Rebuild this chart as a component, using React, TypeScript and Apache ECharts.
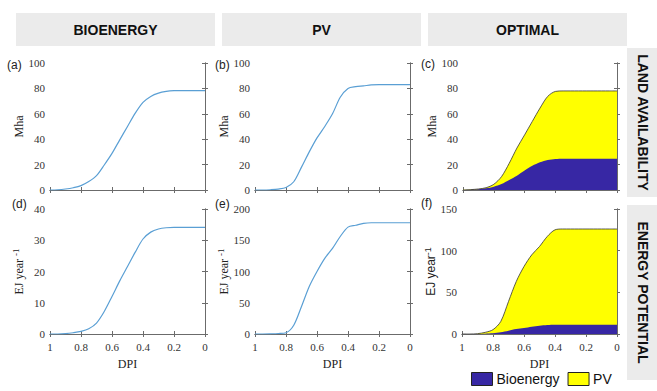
import React, { useEffect, useRef } from "react";
import * as echarts from "echarts";

const dpi = [1, 0.95, 0.9, 0.85, 0.8, 0.75, 0.7, 0.65, 0.6, 0.55, 0.5, 0.45, 0.4, 0.35, 0.3, 0.25, 0.2, 0.15, 0.1, 0.05, 0];

const bioLand = [0, 0.2, 0.8, 1.8, 3.4, 6.6, 11.3, 19.7, 28.8, 39.5, 50, 60.5, 69, 73.7, 76.3, 77.6, 78.2, 78.3, 78.3, 78.3, 78.3];
const pvLand = [0, 0, 0.2, 0.7, 2, 6.5, 18, 30, 41, 50, 60, 73, 80, 81.4, 82, 82.7, 83, 83, 83, 83, 83];
const bioEnergy = [0, 0, 0.1, 0.4, 0.85, 1.7, 3.5, 7.2, 12, 17, 21.6, 26.2, 30.4, 32.6, 33.6, 34, 34.1, 34.1, 34.1, 34.1, 34.1];
const pvEnergy = [0, 0, 0.3, 0.8, 2, 14, 44, 76, 100, 121, 137, 156, 171, 174, 177, 178, 178, 178, 178, 178, 178];

// optimal mix: bioenergy share and total (bioenergy + PV)
const optBioLand = [0, 0.2, 0.5, 1.3, 2.6, 4.7, 7.9, 11.3, 15.3, 19, 21.8, 23.7, 24.5, 24.7, 24.7, 24.7, 24.7, 24.7, 24.7, 24.7, 24.7];
const optTotalLand = [0, 0.3, 0.8, 1.8, 4.5, 10.5, 21, 33, 43.4, 54, 64.5, 73.7, 77.6, 78, 78, 78, 78, 78, 78, 78, 78];
const optBioEnergy = [0, 0, 0.1, 0.4, 0.8, 2, 4, 6, 7.2, 8.8, 10, 10.8, 11.2, 11.2, 11.2, 11.2, 11.2, 11.2, 11.2, 11.2, 11.2];
const optTotalEnergy = [0, 0, 0.4, 2, 5.2, 15, 39, 63, 81, 95, 105, 117, 125, 126, 126, 126, 126, 126, 126, 126, 126];

const columnTitles = ["BIOENERGY", "PV", "OPTIMAL"];
const rowTitles = ["LAND AVAILABILITY", "ENERGY POTENTIAL"];
const panelLabels = ["(a)", "(b)", "(c)", "(d)", "(e)", "(f)"];
const yMax = [100, 100, 100, 40, 200, 150];
const yInterval = [20, 20, 20, 10, 50, 50];

const BLUE_LINE = "#5a9fd4";
const DARK_BLUE = "#3727a4";
const YELLOW = "#ffff00";
const FRAME = "#6b6b6b";
const SERIF = "'Liberation Serif', 'Times New Roman', serif";
const SANS = "'Liberation Sans', Arial, sans-serif";

const grids = [
  { left: 50, top: 63, width: 155, height: 127 },
  { left: 255, top: 63, width: 155, height: 127 },
  { left: 463, top: 63, width: 154, height: 127 },
  { left: 50, top: 209, width: 155, height: 125 },
  { left: 255, top: 209, width: 155, height: 125 },
  { left: 462, top: 209, width: 155, height: 125 },
];

const pairs = (ys: number[]) => dpi.map((x, i) => [x, ys[i]]);

export default function App() {
  const ref = useRef<HTMLDivElement>(null);
  useEffect(() => {
    if (!ref.current) return;
    const chart = echarts.init(ref.current, null, { renderer: "svg" });

    const xAxis: any[] = [];
    const yAxis: any[] = [];
    grids.forEach((_, i) => {
      const bottomRow = i >= 3;
      const common = {
        type: "value",
        gridIndex: i,
        min: 0,
        max: 1,
        interval: 0.2,
        inverse: true,
        axisLine: { show: true, lineStyle: { color: FRAME, width: 1 } },
        axisTick: { show: true, inside: true, length: 3, lineStyle: { color: FRAME } },
        splitLine: { show: false },
      };
      xAxis.push({
        ...common,
        position: "bottom",
        axisLabel: {
          show: bottomRow,
          fontFamily: SERIF,
          fontSize: 11,
          color: "#333",
          margin: 7,
        },
        name: bottomRow ? "DPI" : "",
        nameLocation: "middle",
        nameGap: 24,
        nameTextStyle: { fontFamily: SERIF, fontSize: 12, color: "#222" },
      });
      xAxis.push({ ...common, position: "top", axisLabel: { show: false } });

      const ycommon = {
        type: "value",
        gridIndex: i,
        min: 0,
        max: yMax[i],
        interval: yInterval[i],
        axisLine: { show: true, lineStyle: { color: FRAME, width: 1 } },
        axisTick: { show: true, inside: true, length: 3, lineStyle: { color: FRAME } },
        splitLine: { show: false },
      };
      let name: string;
      let nameTextStyle: any;
      if (i < 3) {
        name = "Mha";
        nameTextStyle = { fontFamily: SERIF, fontSize: 12, color: "#222" };
      } else if (i < 5) {
        name = "EJ year {sup|-1}";
        nameTextStyle = {
          fontFamily: SERIF,
          fontSize: 12,
          color: "#222",
          rich: { sup: { fontFamily: SERIF, fontSize: 9, color: "#222", verticalAlign: "top", padding: [0, 0, 6, 0] } },
        };
      } else {
        name = "EJ year{sup|-1}";
        nameTextStyle = {
          fontFamily: SANS,
          fontSize: 12,
          color: "#222",
          rich: { sup: { fontFamily: SANS, fontSize: 9, color: "#222", verticalAlign: "top", padding: [0, 0, 6, 0] } },
        };
      }
      yAxis.push({
        ...ycommon,
        position: "left",
        axisLabel: { show: true, fontFamily: SERIF, fontSize: 11, color: "#333", margin: 5 },
        name,
        nameLocation: "middle",
        nameRotate: 90,
        nameGap: i === 5 ? 23 : 24,
        nameTextStyle,
      });
      yAxis.push({ ...ycommon, position: "right", axisLabel: { show: false } });
    });

    const lineSeries = (idx: number, name: string, ys: number[]) => ({
      type: "line",
      name,
      xAxisIndex: idx * 2,
      yAxisIndex: idx * 2,
      data: pairs(ys),
      smooth: 0.3,
      showSymbol: false,
      lineStyle: { color: BLUE_LINE, width: 1.2 },
      itemStyle: { color: BLUE_LINE },
    });

    const areaSeries = (idx: number, name: string, ys: number[], color: string, outline: boolean) => ({
      type: "line",
      name,
      xAxisIndex: idx * 2,
      yAxisIndex: idx * 2,
      data: pairs(ys),
      smooth: 0.3,
      showSymbol: false,
      lineStyle: outline ? { color: "#333", width: 0.8 } : { width: 0, color },
      areaStyle: { color, opacity: 1 },
      itemStyle: { color },
    });

    const graphic: any[] = [];
    const headerBoxes = [
      { x: 16, w: 199 },
      { x: 222, w: 199 },
      { x: 428, w: 199 },
    ];
    headerBoxes.forEach((b, i) => {
      graphic.push({ type: "rect", shape: { x: b.x, y: 13, width: b.w, height: 33 }, style: { fill: "#ebebeb" }, silent: true });
      graphic.push({
        type: "text",
        x: b.x + b.w / 2,
        y: 29.5,
        style: { text: columnTitles[i], fontFamily: SANS, fontWeight: "bold", fontSize: 14, fill: "#111", align: "center", verticalAlign: "middle" },
      });
    });
    const sideBoxes = [
      { y: 48, h: 149 },
      { y: 205, h: 175 },
    ];
    sideBoxes.forEach((b, i) => {
      graphic.push({ type: "rect", shape: { x: 627, y: b.y, width: 30, height: b.h }, style: { fill: "#ebebeb" }, silent: true });
      graphic.push({
        type: "text",
        x: 643,
        y: b.y + b.h / 2,
        rotation: -Math.PI / 2,
        style: { text: rowTitles[i], fontFamily: SANS, fontWeight: "bold", fontSize: 14, fill: "#111", align: "center", verticalAlign: "middle" },
      });
    });
    const labelPos = [
      [7, 65],
      [215, 65],
      [421, 64],
      [12, 204],
      [215, 204],
      [421, 203],
    ];
    labelPos.forEach((p, i) => {
      graphic.push({
        type: "text",
        x: p[0],
        y: p[1],
        style: { text: panelLabels[i], fontFamily: SANS, fontSize: 12, fill: "#222", align: "left", verticalAlign: "middle" },
      });
    });

    chart.setOption({
      animation: false,
      backgroundColor: "#fff",
      grid: grids,
      xAxis,
      yAxis,
      legend: {
        left: 471,
        top: 372,
        width: 185,
        padding: 0,
        itemWidth: 21,
        itemHeight: 13,
        itemGap: 8,
        textStyle: { fontFamily: SANS, fontSize: 14, color: "#111", padding: [0, 0, 0, -1] },
        data: [
          { name: "Bioenergy", icon: "rect", itemStyle: { color: DARK_BLUE, borderColor: "#222", borderWidth: 1 } },
          { name: "PV", icon: "rect", itemStyle: { color: YELLOW, borderColor: "#222", borderWidth: 1 } },
        ],
        selectedMode: false,
      },
      series: [
        lineSeries(0, "Bio land", bioLand),
        lineSeries(1, "PV land", pvLand),
        areaSeries(2, "PV", optTotalLand, YELLOW, true),
        areaSeries(2, "Bioenergy", optBioLand, DARK_BLUE, false),
        lineSeries(3, "Bio energy", bioEnergy),
        lineSeries(4, "PV energy", pvEnergy),
        areaSeries(5, "PV", optTotalEnergy, YELLOW, true),
        areaSeries(5, "Bioenergy", optBioEnergy, DARK_BLUE, false),
      ],
      graphic,
    });
    return () => chart.dispose();
  }, []);
  return <div ref={ref} style={{ position: "fixed", left: 0, top: 0, width: 657, height: 391 }} />;
}
